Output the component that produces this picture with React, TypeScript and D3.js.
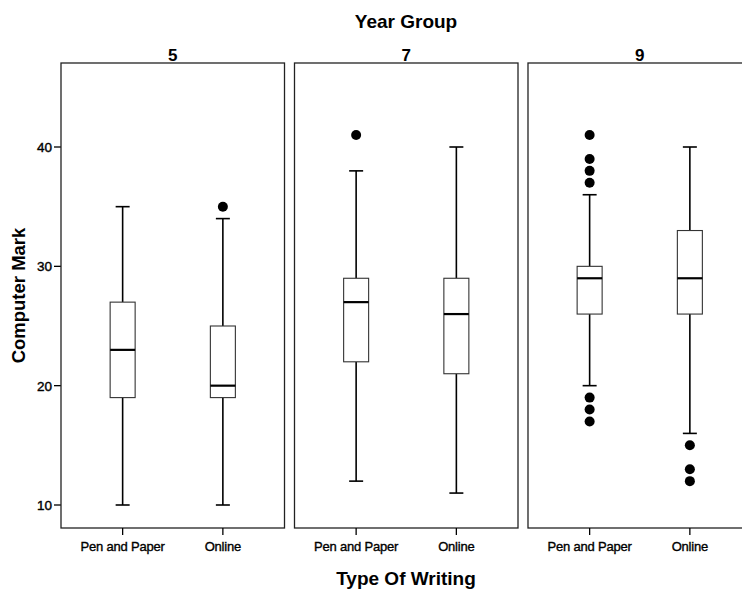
import React from "react";
import * as d3 from "d3";

// facets and categories
const years = ["5", "7", "9"];
const writingTypes = ["Pen and Paper", "Online"];

// per year: [Pen and Paper, Online]
const whiskerLow = [[10, 10], [12, 11], [20, 16]];
const quartile1 = [[19, 19], [22, 21], [26, 26]];
const medians = [[23, 20], [27, 26], [29, 29]];
const quartile3 = [[27, 25], [29, 29], [30, 33]];
const whiskerHigh = [[35, 34], [38, 40], [36, 40]];
const outliers = [
  [[], [35]],
  [[41], []],
  [[41, 39, 38, 37, 19, 18, 17], [15, 13, 12]],
];

const yTicks = [10, 20, 30, 40];

const FONT = "'Liberation Sans', Arial, sans-serif";

export default function App() {
  const width = 742;
  const height = 590;
  const top = 63;
  const bottom = 528;

  // panels
  const fx = d3.scaleBand().domain(years).range([61, 751.5]).paddingInner(0.0428).paddingOuter(0);
  const pw = fx.bandwidth();

  // shared y
  const y = d3.scaleLinear().domain([10, 40]).range([505, 147]);

  // categories inside a panel
  const x = d3.scalePoint().domain(writingTypes).range([0, pw]).padding(0.615);

  const boxW = 25;
  const capW = 14;

  return (
    <svg
      width={width}
      height={height}
      style={{ position: "absolute", left: 0, top: 0, background: "#fff" }}
      fontFamily={FONT}
    >
      <text x={406} y={28} textAnchor="middle" fontSize={19} fontWeight="bold">
        Year Group
      </text>
      <text x={406} y={585} textAnchor="middle" fontSize={19} fontWeight="bold">
        Type Of Writing
      </text>
      <text
        transform={`translate(25,${(top + bottom) / 2}) rotate(-90)`}
        textAnchor="middle"
        fontSize={18.5}
        fontWeight="bold"
      >
        Computer Mark
      </text>

      {/* y axis */}
      <g>
        {yTicks.map((t) => (
          <g key={t}>
            <line x1={54} x2={61} y1={y(t)} y2={y(t)} stroke="#000" strokeWidth={1.3} />
            <text x={52} y={y(t) + 5} textAnchor="end" fontSize={13.5} stroke="#000" strokeWidth={0.4}>
              {t}
            </text>
          </g>
        ))}
      </g>

      {years.map((yr, i) => {
        const px = fx(yr)!;
        return (
          <g key={yr} transform={`translate(${px},0)`}>
            <text x={pw / 2} y={61} textAnchor="middle" fontSize={17} fontWeight="bold">
              {yr}
            </text>
            <rect x={0} y={top} width={pw} height={bottom - top} fill="none" stroke="#222" strokeWidth={1.3} />
            {writingTypes.map((wt, j) => {
              const cx = x(wt)!;
              return (
                <g key={wt}>
                  <line x1={cx} x2={cx} y1={bottom} y2={bottom + 7} stroke="#000" strokeWidth={1.3} />
                  <text x={cx} y={551} textAnchor="middle" fontSize={13} letterSpacing={-0.2} stroke="#000" strokeWidth={0.35}>
                    {wt}
                  </text>
                  {/* whiskers */}
                  <line x1={cx} x2={cx} y1={y(whiskerLow[i][j])} y2={y(quartile1[i][j])} stroke="#000" strokeWidth={1.6} />
                  <line x1={cx} x2={cx} y1={y(quartile3[i][j])} y2={y(whiskerHigh[i][j])} stroke="#000" strokeWidth={1.6} />
                  <line x1={cx - capW / 2} x2={cx + capW / 2} y1={y(whiskerLow[i][j])} y2={y(whiskerLow[i][j])} stroke="#000" strokeWidth={1.6} />
                  <line x1={cx - capW / 2} x2={cx + capW / 2} y1={y(whiskerHigh[i][j])} y2={y(whiskerHigh[i][j])} stroke="#000" strokeWidth={1.6} />
                  {/* box */}
                  <rect
                    x={cx - boxW / 2}
                    y={y(quartile3[i][j])}
                    width={boxW}
                    height={y(quartile1[i][j]) - y(quartile3[i][j])}
                    fill="#fff"
                    stroke="#333"
                    strokeWidth={1.1}
                  />
                  <line x1={cx - boxW / 2} x2={cx + boxW / 2} y1={y(medians[i][j])} y2={y(medians[i][j])} stroke="#000" strokeWidth={2.2} />
                  {outliers[i][j].map((v, k) => (
                    <circle key={k} cx={cx} cy={y(v)} r={5} fill="#000" />
                  ))}
                </g>
              );
            })}
          </g>
        );
      })}
    </svg>
  );
}
